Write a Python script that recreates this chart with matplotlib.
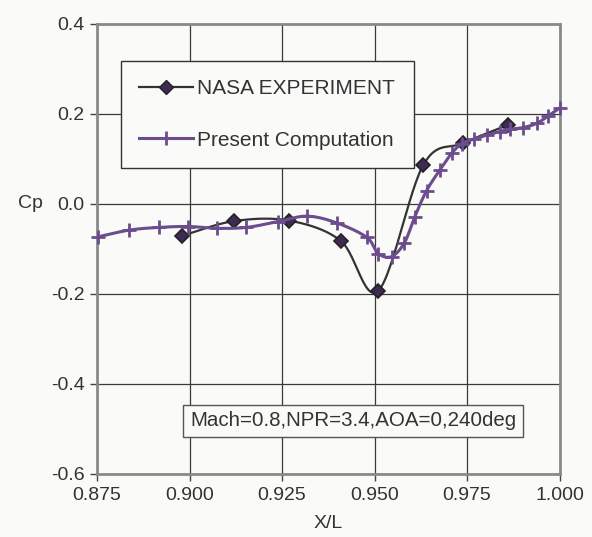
import numpy as np
import matplotlib
matplotlib.use("Agg")
import matplotlib.pyplot as plt
from matplotlib.lines import Line2D

plt.rcParams['font.family'] = ['Liberation Sans', 'DejaVu Sans']

# ---- data ----
nasa_x = [0.8979, 0.9120, 0.9270, 0.9409, 0.9510, 0.9632, 0.9740, 0.9862]
nasa_cp = [-0.071, -0.038, -0.037, -0.082, -0.193, 0.087, 0.135, 0.176]

comp_x = [0.8753, 0.8837, 0.8918, 0.8997, 0.9075, 0.9154, 0.9240, 0.9318,
          0.9398, 0.9479, 0.9510, 0.9546, 0.9581, 0.9609, 0.9641, 0.9677,
          0.9709, 0.9736, 0.9769, 0.9803, 0.9839, 0.9866, 0.9902, 0.9938,
          0.9970, 1.0000]
comp_cp = [-0.073, -0.058, -0.052, -0.050, -0.054, -0.052, -0.039, -0.027,
           -0.042, -0.074, -0.110, -0.117, -0.086, -0.028, 0.030, 0.076,
           0.113, 0.134, 0.144, 0.153, 0.161, 0.166, 0.170, 0.179,
           0.196, 0.213]

x_ticks = [0.875, 0.900, 0.925, 0.950, 0.975, 1.000]
y_ticks = [-0.6, -0.4, -0.2, 0.0, 0.2, 0.4]
legend_labels = ["NASA EXPERIMENT", "Present Computation"]
note = "Mach=0.8,NPR=3.4,AOA=0,240deg"


def smooth(xs, ys, n=30):
    """Excel-like smoothed line (uniform Catmull-Rom through the points)."""
    p = np.column_stack([xs, ys]).astype(float)
    p = np.vstack([p[0], p, p[-1]])
    out = []
    t = np.linspace(0, 1, n)[:, None]
    for i in range(1, len(p) - 2):
        p0, p1, p2, p3 = p[i - 1], p[i], p[i + 1], p[i + 2]
        c = 0.5 * ((2 * p1) + (-p0 + p2) * t + (2 * p0 - 5 * p1 + 4 * p2 - p3) * t ** 2
                   + (-p0 + 3 * p1 - 3 * p2 + p3) * t ** 3)
        out.append(c)
    c = np.vstack(out)
    return c[:, 0], c[:, 1]


bg = '#fafaf8'
txt = '#333333'
nasa_line = '#333333'
nasa_face = '#3e2a52'
comp_col = '#6b4d8e'

fig = plt.figure(figsize=(5.92, 5.37), dpi=100, facecolor=bg)
ax = fig.add_axes([97 / 592, 1 - 474 / 537, (559.5 - 97) / 592, (474 - 24) / 537])
ax.set_facecolor(bg)

sx, sy = smooth(nasa_x, nasa_cp)
ax.plot(sx, sy, color=nasa_line, lw=1.6, zorder=3)
ax.plot(nasa_x, nasa_cp, ls='none', marker='D', ms=7.5, mfc=nasa_face, mec='#222222',
        mew=1.2, zorder=4, clip_on=False)

cx, cy = smooth(comp_x, comp_cp)
ax.plot(cx, cy, color=comp_col, lw=2.2, zorder=5)
ax.plot(comp_x, comp_cp, ls='none', marker='+', ms=10.5, mew=2.0, color=comp_col,
        zorder=6, clip_on=False)

ax.set_xlim(0.875, 1.000)
ax.set_ylim(-0.6, 0.4)
ax.set_xticks(x_ticks)
ax.set_yticks(y_ticks)
ax.set_xticklabels([f"{v:.3f}" for v in x_ticks])
ax.set_yticklabels([f"{v:.1f}" for v in y_ticks])
ax.grid(True, color='#3a3a3a', lw=0.9, zorder=1)
ax.tick_params(axis='both', direction='out', length=5, width=1, color='#444444',
               labelsize=14, labelcolor=txt, pad=4)
for s in ax.spines.values():
    s.set_color('#8a8a8a')
    s.set_linewidth(2.0)

fig.text(30 / 592, 1 - 204 / 537, "Cp", ha='center', va='center', fontsize=14, color=txt)
fig.text(328 / 592, 1 - 524 / 537, "X/L", ha='center', va='center', fontsize=14, color=txt)

handles = [Line2D([], [], color=nasa_line, lw=1.6, marker='D', ms=7.5, mfc=nasa_face, mec='#222222'),
           Line2D([], [], color=comp_col, lw=2.2, marker='+', ms=10.5, mew=2.0)]
leg = ax.legend(handles, legend_labels, loc='upper left',
                bbox_to_anchor=((120.7 - 97) / 462.5, (474 - 60.7) / 450),
                fontsize=15, frameon=True, fancybox=False, handlelength=2.6,
                handletextpad=0.2, borderpad=0.88, labelspacing=1.57,
                borderaxespad=0, labelcolor=txt)
leg.get_frame().set_edgecolor('#333333')
leg.get_frame().set_linewidth(1.0)
leg.get_frame().set_facecolor(bg)
leg.get_frame().set_alpha(1)

ax.text(0.9442, -0.482, note, ha='center', va='center', fontsize=14.8, color=txt,
        zorder=7,
        bbox=dict(boxstyle='square,pad=0.33', fc=bg, ec='#555555', lw=1.0))

fig.savefig('out.png', dpi=100, facecolor=bg)
